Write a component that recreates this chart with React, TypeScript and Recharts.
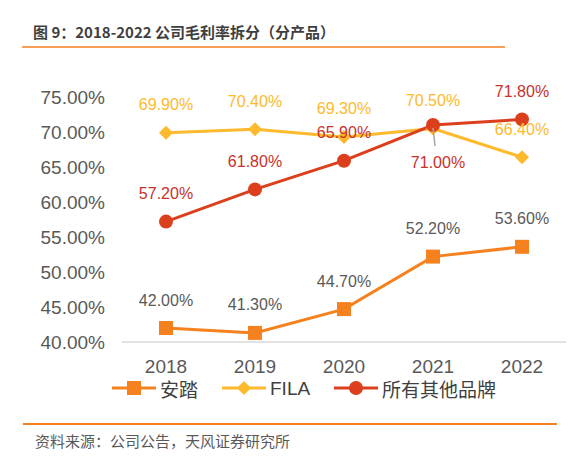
import React from 'react'
import { LineChart, Line, XAxis, YAxis, LabelList } from 'recharts'

const years = ['2018', '2019', '2020', '2021', '2022']
const anta = [42.0, 41.3, 44.7, 52.2, 53.6]
const fila = [69.9, 70.4, 69.3, 70.5, 66.4]
const others = [57.2, 61.8, 65.9, 71.0, 71.8]
const yTicks = [40, 45, 50, 55, 60, 65, 70, 75]

const ANTA_COLOR = '#F5821F'
const FILA_COLOR = '#FDBA2C'
const OTHER_COLOR = '#DC3F1C'
const LATIN = '"Liberation Sans", Arial, sans-serif'
const CJK = '"Noto Sans CJK SC", "Microsoft YaHei", sans-serif'

const data = years.map((year, i) => ({
  year,
  anta: anta[i],
  fila: fila[i],
  others: others[i],
}))

const pct = (v: number) => v.toFixed(2) + '%'

const SquareDot = ({ cx, cy }: any) => (
  <rect x={cx - 7} y={cy - 7} width={14} height={14} fill={ANTA_COLOR} />
)
const DiamondDot = ({ cx, cy }: any) => (
  <polygon points={`${cx},${cy - 7} ${cx + 7},${cy} ${cx},${cy + 7} ${cx - 7},${cy}`} fill={FILA_COLOR} />
)
const CircleDot = ({ cx, cy }: any) => <circle cx={cx} cy={cy} r={7} fill={OTHER_COLOR} />

const makeLabel = (color: string, belowIndex = -1) => (props: any) => {
  const { x, y, value, index } = props
  if (index === belowIndex) {
    return (
      <g>
        <line x1={x} y1={y + 3} x2={x + 2} y2={y + 21} stroke="#A6A6A6" strokeWidth={1.5} />
        <text x={x + 5} y={y + 37} fill={color} fontSize={16} fontFamily={LATIN} textAnchor="middle" dominantBaseline="central">
          {pct(value)}
        </text>
      </g>
    )
  }
  return (
    <text x={x} y={y - 28} fill={color} fontSize={16} fontFamily={LATIN} textAnchor="middle" dominantBaseline="central">
      {pct(value)}
    </text>
  )
}

function LegendBar() {
  const items = [
    { name: '安踏', color: ANTA_COLOR, x: 112, shape: 'square' },
    { name: 'FILA', color: FILA_COLOR, x: 222, shape: 'diamond' },
    { name: '所有其他品牌', color: OTHER_COLOR, x: 334, shape: 'circle' },
  ]
  const cy = 388
  return (
    <svg width={577} height={464} style={{ position: 'absolute', left: 0, top: 0, pointerEvents: 'none' }}>
      {items.map((it) => {
        const mx = it.x + 22
        return (
          <g key={it.name}>
            <line x1={it.x} y1={cy} x2={it.x + 44} y2={cy} stroke={it.color} strokeWidth={3} />
            {it.shape === 'square' && <rect x={mx - 7} y={cy - 7} width={14} height={14} fill={it.color} />}
            {it.shape === 'diamond' && (
              <polygon points={`${mx},${cy - 7} ${mx + 7},${cy} ${mx},${cy + 7} ${mx - 7},${cy}`} fill={it.color} />
            )}
            {it.shape === 'circle' && <circle cx={mx} cy={cy} r={7} fill={it.color} />}
            <text
              x={it.x + 48}
              y={cy}
              fontSize={19}
              fill="#404040"
              fontFamily={it.name === 'FILA' ? LATIN : CJK}
              dominantBaseline="central"
            >
              {it.name}
            </text>
          </g>
        )
      })}
    </svg>
  )
}

export default function App() {
  return (
    <div style={{ position: 'absolute', left: 0, top: 0, width: 577, height: 464, background: '#fff' }}>
      <div
        style={{
          position: 'absolute', left: 33, top: 21, fontFamily: CJK, fontSize: 15,
          fontWeight: 'bold', color: '#3F3F3F', whiteSpace: 'nowrap', lineHeight: '22px',
        }}
      >
        图 9：2018-2022 公司毛利率拆分（分产品）
      </div>
      <div style={{ position: 'absolute', left: 22, top: 46, width: 483, height: 2, background: '#F8A05A' }} />

      <div style={{ position: 'absolute', left: 0, top: 0 }}>
        <LineChart width={577} height={464} data={data} margin={{ top: 97, right: 11, left: 0, bottom: 92 }}>
          <XAxis
            dataKey="year"
            height={30}
            padding={{ left: 44, right: 44 }}
            axisLine={{ stroke: '#D9D9D9', strokeWidth: 1.5 }}
            tickLine={false}
            tickSize={6}
            tickMargin={12}
            tick={{ fill: '#595959', fontSize: 19, fontFamily: LATIN }}
          />
          <YAxis
            width={122}
            domain={[40, 75]}
            ticks={yTicks}
            interval={0}
            axisLine={false}
            tickLine={false}
            tickSize={6}
            tickMargin={11}
            tickFormatter={pct}
            tick={{ fill: '#595959', fontSize: 19, fontFamily: LATIN }}
          />
          <Line dataKey="anta" stroke={ANTA_COLOR} strokeWidth={3} dot={<SquareDot />} isAnimationActive={false}>
            <LabelList dataKey="anta" content={makeLabel('#595959')} />
          </Line>
          <Line dataKey="fila" stroke={FILA_COLOR} strokeWidth={3} dot={<DiamondDot />} isAnimationActive={false}>
            <LabelList dataKey="fila" content={makeLabel(FILA_COLOR)} />
          </Line>
          <Line dataKey="others" stroke={OTHER_COLOR} strokeWidth={3} dot={<CircleDot />} isAnimationActive={false}>
            <LabelList dataKey="others" content={makeLabel('#C8302A', 3)} />
          </Line>
        </LineChart>
      </div>

      <LegendBar />

      <div style={{ position: 'absolute', left: 23, top: 423, width: 534, height: 2, background: '#F58220' }} />
      <div
        style={{
          position: 'absolute', left: 35, top: 431, fontFamily: CJK, fontSize: 15,
          color: '#595959', whiteSpace: 'nowrap', lineHeight: '20px',
        }}
      >
        资料来源：公司公告，天风证券研究所
      </div>
    </div>
  )
}
